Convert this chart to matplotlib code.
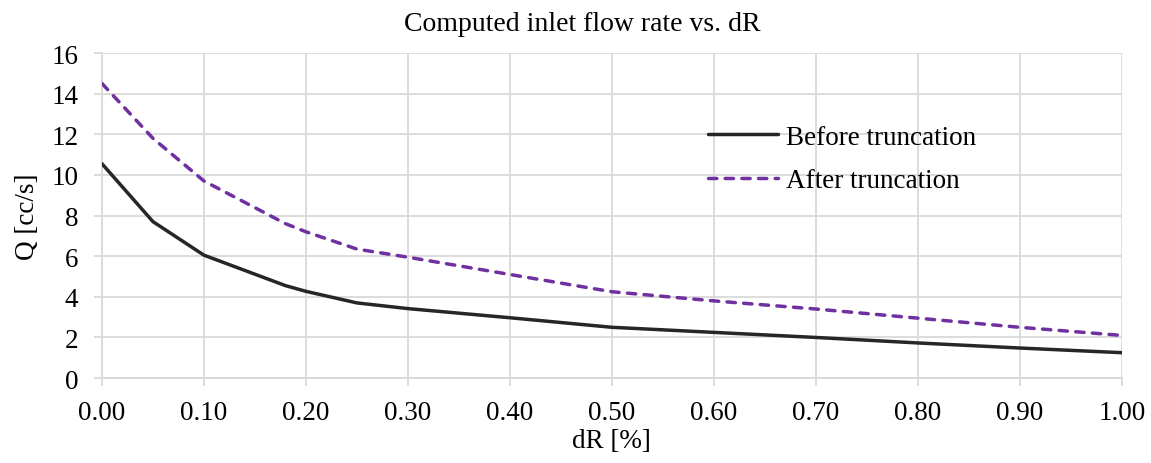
import matplotlib
matplotlib.use("Agg")
import matplotlib.pyplot as plt
from matplotlib.ticker import MultipleLocator, FormatStrFormatter

# Relative radius change dR [%] and computed inlet flow rate Q [cc/s]
dr = [0.00, 0.05, 0.10, 0.18, 0.20, 0.25, 0.30, 0.40, 0.50, 0.60, 0.70, 0.80, 0.90, 1.00]
q_before = [10.55, 7.70, 6.05, 4.55, 4.27, 3.70, 3.42, 2.97, 2.50, 2.25, 2.00, 1.73, 1.48, 1.25]
q_after = [14.50, 11.80, 9.70, 7.60, 7.20, 6.35, 5.95, 5.10, 4.25, 3.80, 3.40, 2.95, 2.50, 2.10]

title = "Computed inlet flow rate vs. dR"
xlabel = "dR [%]"
ylabel = "Q [cc/s]"
label_before = "Before truncation"
label_after = "After truncation"

plt.rcParams["font.family"] = ["Liberation Serif", "DejaVu Serif"]
fs = 19.5

fig = plt.figure(figsize=(11.51, 4.64), dpi=100)
ax = fig.add_axes([0.0886, 0.183, 0.886, 0.7006])

grid_c = "#d9d9d9"
ax.plot(dr, q_before, color="#262626", lw=2.5, label=label_before,
        solid_capstyle="round", zorder=3)
ax.plot(dr, q_after, color="#7030a0", lw=2.5, ls=(0, (2.4, 2.4)),
        label=label_after, dash_capstyle="round", zorder=3)

ax.set_xlim(0, 1.0)
ax.set_ylim(0, 16)
ax.xaxis.set_major_locator(MultipleLocator(0.1))
ax.xaxis.set_major_formatter(FormatStrFormatter("%.2f"))
ax.yaxis.set_major_locator(MultipleLocator(2))

ax.grid(True, color=grid_c, lw=1.3, zorder=0)
ax.set_axisbelow(True)
for s in ["top", "right"]:
    ax.spines[s].set_visible(False)
for s in ["left", "bottom"]:
    ax.spines[s].set_color(grid_c)
    ax.spines[s].set_linewidth(1.3)

ax.tick_params(axis="both", colors=grid_c, length=6, width=1.3,
               labelcolor="black", labelsize=fs)
ax.tick_params(axis="x", pad=10)
ax.tick_params(axis="y", pad=11)

ax.set_title(title, fontsize=20, pad=16.5, x=0.471)
ax.set_xlabel(xlabel, fontsize=fs, labelpad=2)
ax.set_ylabel(ylabel, fontsize=fs, labelpad=8)

ax.legend(loc="upper left", bbox_to_anchor=(0.594, 0.78), frameon=False,
          fontsize=fs, handlelength=2.6, handletextpad=0.3,
          labelspacing=0.7, borderpad=0, borderaxespad=0)

fig.savefig("out.png", dpi=100)
